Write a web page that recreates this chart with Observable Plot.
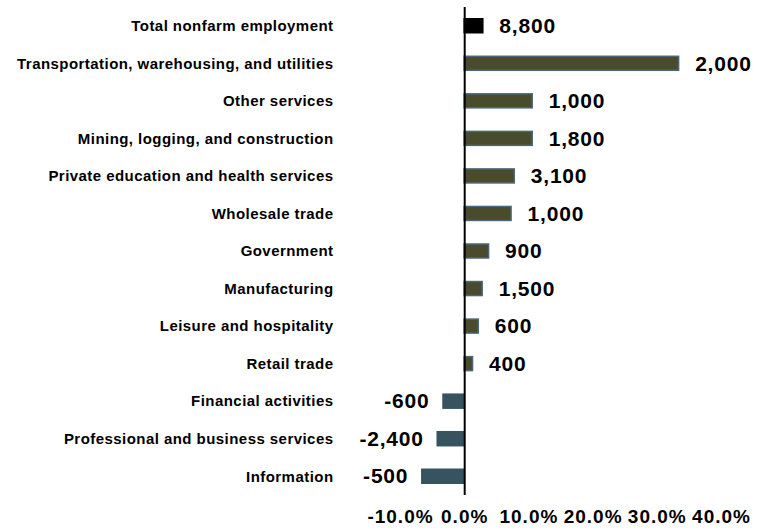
<!DOCTYPE html>
<html>
<head>
<meta charset="utf-8">
<script src="https://cdn.jsdelivr.net/npm/d3@7"></script>
<script src="https://cdn.jsdelivr.net/npm/@observablehq/plot@0.6"></script>
<style>
  html, body { margin: 0; padding: 0; background: #fff; }
  #chart svg { font-family: "Liberation Sans", Arial, sans-serif; }
</style>
</head>
<body>
<div id="chart"></div>
<script>
const categories = [
  "Total nonfarm employment",
  "Transportation, warehousing, and utilities",
  "Other services",
  "Mining, logging, and construction",
  "Private education and health services",
  "Wholesale trade",
  "Government",
  "Manufacturing",
  "Leisure and hospitality",
  "Retail trade",
  "Financial activities",
  "Professional and business services",
  "Information"
];
const pctChange = [2.9, 33.4, 10.6, 10.6, 7.8, 7.3, 3.8, 2.8, 2.2, 1.3, -3.3, -4.2, -6.6];
const jobChange = [8800, 2000, 1000, 1800, 3100, 1000, 900, 1500, 600, 400, -600, -2400, -500];
const xTicks = [-10, 0, 10, 20, 30, 40];

const data = categories.map((c, i) => ({
  category: c,
  pct: pctChange[i],
  jobs: jobChange[i],
  kind: i === 0 ? "total" : (pctChange[i] < 0 ? "neg" : "pos")
}));

const fmt = v => v.toLocaleString("en-US");
const fillFor = {total: "#000000", pos: "#4a4a2c", neg: "#36535f"};
const strokeFor = {total: "#000000", pos: "#4a6878", neg: "#36535f"};

const chart = Plot.plot({
  width: 770,
  height: 531,
  marginLeft: 400,
  marginRight: 49,
  marginTop: 7,
  marginBottom: 36,
  x: {domain: [-10, 40], ticks: xTicks, tickFormat: d => d.toFixed(1) + "%"},
  y: {domain: categories, paddingInner: 0.627, paddingOuter: 0.313, round: false},
  marks: [
    Plot.barX(data, {
      x: "pct", y: "category",
      fill: d => fillFor[d.kind],
      stroke: d => strokeFor[d.kind],
      strokeWidth: 1.5
    }),
    Plot.ruleX([0], {stroke: "#000", strokeWidth: 2}),
    Plot.text(data.filter(d => d.pct >= 0), {
      x: "pct", y: "category", text: d => fmt(d.jobs),
      textAnchor: "start", dx: 16,
      fontSize: 21, fontWeight: "bold", fill: "#000"
    }),
    Plot.text(data.filter(d => d.pct < 0), {
      x: "pct", y: "category", text: d => fmt(d.jobs),
      textAnchor: "end", dx: -14,
      fontSize: 21, fontWeight: "bold", fill: "#000"
    }),
    Plot.axisY({anchor: "left", tickSize: 0, tickPadding: 67, label: null,
      fontSize: 15, fontWeight: "bold", fill: "#000"}),
    Plot.axisX({anchor: "bottom", ticks: xTicks, tickSize: 0, tickPadding: 14, label: null,
      tickFormat: d => d.toFixed(1) + "%",
      fontSize: 19, fontWeight: "bold", fill: "#000"})
  ]
});
const root = d3.select(chart);
root.selectAll("g[aria-label='y-axis tick label'] text").style("letter-spacing", "0.45px");
root.selectAll("g[aria-label='x-axis tick label'] text").style("letter-spacing", "1px");
root.selectAll("g[aria-label='text'] text").style("letter-spacing", "0.8px");
document.getElementById("chart").appendChild(chart);
</script>
</body>
</html>
